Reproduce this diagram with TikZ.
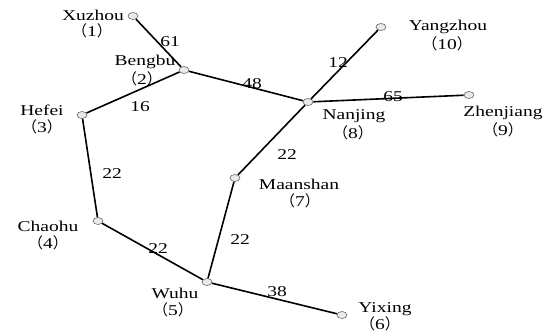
\documentclass[tikz,border=0pt]{standalone}
\usepackage{fontspec}
\newfontfamily\tnr[FakeStretch=1.3]{Liberation Serif}
\newfontfamily\cjk{Noto Sans CJK SC}
\newcommand{\pn}[1]{{\cjk （}{\tnr #1}{\cjk ）}}
\usetikzlibrary{shapes.geometric}
\begin{document}
\begin{tikzpicture}[x=1pt,y=-1pt,
  city/.style={ellipse,draw=gray!80!black,fill=blue!8!gray!15,line width=0.6pt,minimum width=10pt,minimum height=7pt,inner sep=0pt},
  lbl/.style={font=\tnr\fontsize{15}{15}\selectfont,inner sep=0pt,align=center},
  wt/.style={font=\tnr\fontsize{15}{15}\selectfont,inner sep=0pt},
  road/.style={line width=1.6pt,black}]
\useasboundingbox (0,0) rectangle (552,333);
\node[city] (xz) at (133,16) {};
\node[city] (bb) at (184,70) {};
\node[city] (hf) at (82,115) {};
\node[city] (ch) at (98,221) {};
\node[city] (wh) at (207,282) {};
\node[city] (yx) at (342,315) {};
\node[city] (ms) at (235,178) {};
\node[city] (nj) at (308,102) {};
\node[city] (zj) at (469,95) {};
\node[city] (yz) at (381,27) {};
\draw[road] (xz) -- (bb);
\draw[road] (bb) -- (hf);
\draw[road] (bb) -- (nj);
\draw[road] (hf) -- (ch);
\draw[road] (ch) -- (wh);
\draw[road] (wh) -- (yx);
\draw[road] (wh) -- (ms);
\draw[road] (ms) -- (nj);
\draw[road] (nj) -- (zj);
\draw[road] (nj) -- (yz);
\node[lbl] (lxz) at (93,15) {Xuzhou};
\node[lbl] (pxz) at (92,31) {\pn{1}};
\node[lbl] (lbb) at (145,62) {Bengbu};
\node[lbl] (pbb) at (142,79) {\pn{2}};
\node[lbl] (lhf) at (42,110) {Hefei};
\node[lbl] (phf) at (42,127) {\pn{3}};
\node[lbl] (lch) at (48,226) {Chaohu};
\node[lbl] (pch) at (48,243) {\pn{4}};
\node[lbl] (lwh) at (175,293) {Wuhu};
\node[lbl] (pwh) at (173,310) {\pn{5}};
\node[lbl] (lyx) at (385,309) {Yixing};
\node[lbl] (pyx) at (380,324) {\pn{6}};
\node[lbl] (lms) at (299,184) {Maanshan};
\node[lbl] (pms) at (300,201) {\pn{7}};
\node[lbl] (lnj) at (354,116) {Nanjing};
\node[lbl] (pnj) at (353,133) {\pn{8}};
\node[lbl] (lzj) at (503,113) {Zhenjiang};
\node[lbl] (pzj) at (503,130) {\pn{9}};
\node[lbl] (lyz) at (448,27) {Yangzhou};
\node[lbl] (pyz) at (447,44) {\pn{10}};
\node[wt] (w61) at (170,42) {61};
\node[wt] (w48) at (252,84) {48};
\node[wt] (w16) at (140,107) {16};
\node[wt] (w22a) at (112,174) {22};
\node[wt] (w22b) at (158,249) {22};
\node[wt] (w22c) at (240,240) {22};
\node[wt] (w38) at (277,292) {38};
\node[wt] (w22d) at (287,155) {22};
\node[wt] (w12) at (338,63) {12};
\node[wt] (w65) at (393,97) {65};
\end{tikzpicture}
\end{document}
